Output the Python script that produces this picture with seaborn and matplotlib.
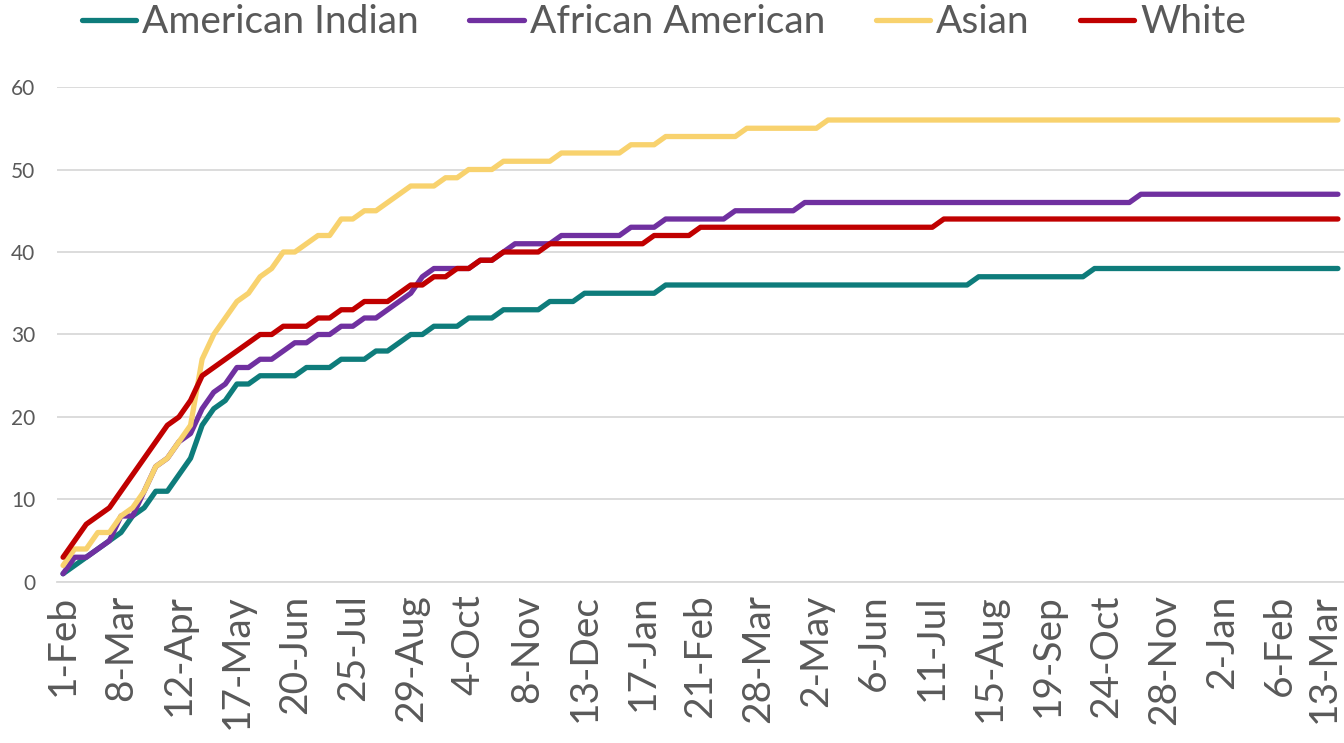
import numpy as np
import pandas as pd
import matplotlib
matplotlib.use("Agg")
import matplotlib.pyplot as plt
import matplotlib.transforms as mtransforms
import seaborn as sns

# weekly cumulative counts, one value per week (111 weeks)
week_labels = ["1-Feb", "8-Mar", "12-Apr", "17-May", "20-Jun", "25-Jul", "29-Aug",
               "4-Oct", "8-Nov", "13-Dec", "17-Jan", "21-Feb", "28-Mar", "2-May",
               "6-Jun", "11-Jul", "15-Aug", "19-Sep", "24-Oct", "28-Nov", "2-Jan",
               "6-Feb", "13-Mar"]

american_indian = [1, 2, 3, 4, 5, 6, 8, 9, 11, 11, 13, 15, 19, 21, 22, 24, 24, 25, 25, 25,
                   25, 26, 26, 26, 27, 27, 27, 28, 28, 29, 30, 30, 31, 31, 31, 32, 32, 32, 33, 33,
                   33, 33, 34, 34, 34, 35, 35, 35, 35, 35, 35, 35, 36, 36, 36, 36, 36, 36, 36, 36,
                   36, 36, 36, 36, 36, 36, 36, 36, 36, 36, 36, 36, 36, 36, 36, 36, 36, 36, 36, 37,
                   37, 37, 37, 37, 37, 37, 37, 37, 37, 38, 38, 38, 38, 38, 38, 38, 38, 38, 38, 38,
                   38, 38, 38, 38, 38, 38, 38, 38, 38, 38, 38]

african_american = [1, 3, 3, 4, 5, 8, 8, 11, 14, 15, 17, 18, 21, 23, 24, 26, 26, 27, 27, 28,
                    29, 29, 30, 30, 31, 31, 32, 32, 33, 34, 35, 37, 38, 38, 38, 38, 39, 39, 40, 41,
                    41, 41, 41, 42, 42, 42, 42, 42, 42, 43, 43, 43, 44, 44, 44, 44, 44, 44, 45, 45,
                    45, 45, 45, 45, 46, 46, 46, 46, 46, 46, 46, 46, 46, 46, 46, 46, 46, 46, 46, 46,
                    46, 46, 46, 46, 46, 46, 46, 46, 46, 46, 46, 46, 46, 47, 47, 47, 47, 47, 47, 47,
                    47, 47, 47, 47, 47, 47, 47, 47, 47, 47, 47]

asian = [2, 4, 4, 6, 6, 8, 9, 11, 14, 15, 17, 19, 27, 30, 32, 34, 35, 37, 38, 40,
         40, 41, 42, 42, 44, 44, 45, 45, 46, 47, 48, 48, 48, 49, 49, 50, 50, 50, 51, 51,
         51, 51, 51, 52, 52, 52, 52, 52, 52, 53, 53, 53, 54, 54, 54, 54, 54, 54, 54, 55,
         55, 55, 55, 55, 55, 55, 56, 56, 56, 56, 56, 56, 56, 56, 56, 56, 56, 56, 56, 56,
         56, 56, 56, 56, 56, 56, 56, 56, 56, 56, 56, 56, 56, 56, 56, 56, 56, 56, 56, 56,
         56, 56, 56, 56, 56, 56, 56, 56, 56, 56, 56]

white = [3, 5, 7, 8, 9, 11, 13, 15, 17, 19, 20, 22, 25, 26, 27, 28, 29, 30, 30, 31,
         31, 31, 32, 32, 33, 33, 34, 34, 34, 35, 36, 36, 37, 37, 38, 38, 39, 39, 40, 40,
         40, 40, 41, 41, 41, 41, 41, 41, 41, 41, 41, 42, 42, 42, 42, 43, 43, 43, 43, 43,
         43, 43, 43, 43, 43, 43, 43, 43, 43, 43, 43, 43, 43, 43, 43, 43, 44, 44, 44, 44,
         44, 44, 44, 44, 44, 44, 44, 44, 44, 44, 44, 44, 44, 44, 44, 44, 44, 44, 44, 44,
         44, 44, 44, 44, 44, 44, 44, 44, 44, 44, 44]

series_names = ["American Indian", "African American", "Asian", "White"]
colors = ["#0E7C7B", "#7030A0", "#F8D26E", "#C00000"]

df = pd.DataFrame({
    "week": np.arange(len(white)),
    "American Indian": american_indian,
    "African American": african_american,
    "Asian": asian,
    "White": white,
})
long_df = df.melt(id_vars="week", var_name="group", value_name="count")

sns.set_style("white")
plt.rcParams["font.family"] = ["Lato", "DejaVu Sans"]

grey = "#595959"
light = "#D9D9D9"

fig = plt.figure(figsize=(13.44, 7.43), dpi=100)
ax = fig.add_axes([0.0426, 0.2167, 0.9572, 0.6662])

sns.lineplot(data=long_df, x="week", y="count", hue="group", hue_order=series_names,
             palette=colors, linewidth=3.8, ax=ax, legend=False)
for line in ax.lines:
    line.set_solid_joinstyle("round")
    line.set_solid_capstyle("round")
    line.set_clip_on(False)

ax.set_xlim(-0.5, len(white) - 0.5)
ax.set_ylim(0, 60)
ax.set_yticks(range(0, 61, 10))
ax.set_xticks(range(0, len(white), 5))
ax.set_xticklabels(week_labels, rotation=90)
ax.set_xticks(np.arange(-0.5, len(white), 1), minor=True)
ax.set_xlabel("")
ax.set_ylabel("")

ax.yaxis.grid(True, color=light, linewidth=1.3)
ax.set_axisbelow(True)
for side in ["top", "right", "left"]:
    ax.spines[side].set_visible(False)
ax.spines["bottom"].set_color(light)
ax.spines["bottom"].set_linewidth(1.3)

ax.tick_params(axis="x", which="major", length=0, pad=9, labelsize=28, labelcolor=grey)
ax.tick_params(axis="x", which="minor", length=8.5, width=1.1, color=light)
ax.tick_params(axis="y", length=0, pad=16, labelsize=15, labelcolor=grey)

# last date label sits against the right edge; nudge it inside like the original
last = ax.get_xticklabels()[-1]
last.set_transform(last.get_transform() + mtransforms.ScaledTranslation(-14 / 100, 0, fig.dpi_scale_trans))

leg = fig.legend(ax.lines, series_names, loc="center", bbox_to_anchor=(0.494, 0.970),
                 ncol=4, frameon=False, fontsize=28, handlelength=1.4,
                 handletextpad=0.15, columnspacing=1.3)
for t in leg.get_texts():
    t.set_color(grey)

fig.savefig("out.png", dpi=100)
